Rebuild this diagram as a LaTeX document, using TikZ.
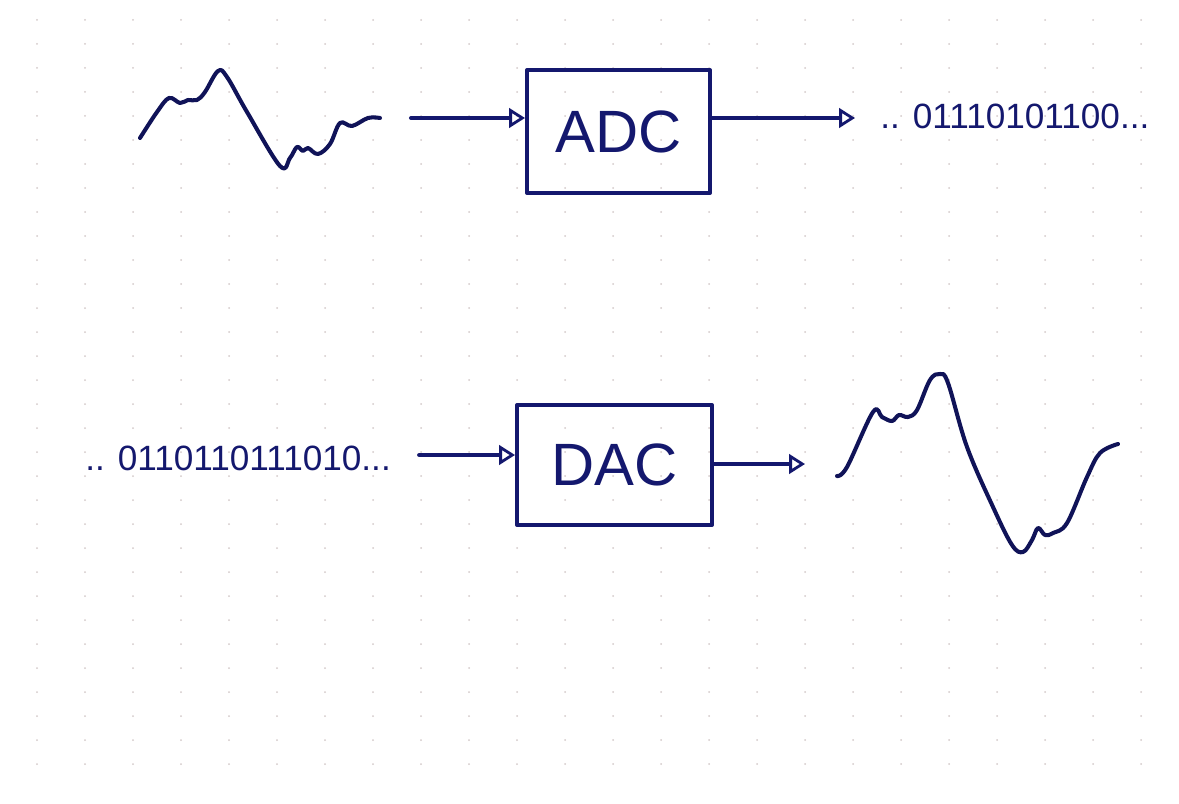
\documentclass[tikz,border=0pt]{standalone}
\usepackage{fontspec}
\setmainfont{Liberation Sans}
\usetikzlibrary{arrows.meta,calc}
\definecolor{ink}{RGB}{20,24,110}
\definecolor{paperdot}{RGB}{212,202,202}
\tikzset{
  blok/.style={draw=ink, line width=2.3pt, inner sep=0pt, text=ink, font=\fontsize{34}{40}\selectfont},
  bits/.style={text=ink, inner sep=0pt, anchor=west, font=\fontsize{20}{24}\selectfont},
  pijl/.style={draw=ink, line width=2.3pt, -{Triangle[open,length=9pt,width=11pt,line width=1.6pt]}},
  golf/.style={draw=ink!80!black, line width=2.3pt}
}
\begin{document}
\begin{tikzpicture}[x=0.02cm, y=-0.02cm, line join=round, line cap=round]
	\fill[white] (0,0) rectangle (1179,804);
	\useasboundingbox (0,0) rectangle (1179,804);
	% dotted paper
	\foreach \i in {0,...,23}
		\foreach \j in {0,...,31}
			\fill[paperdot] ({37+48*\i},{20+24*\j}) circle (1);
	% top row: analog -> ADC -> bits
	\coordinate (in1) at (411,118);
	\coordinate (out1) at (855,118);
	\node[blok, minimum width=3.66cm, minimum height=2.46cm] (adc) at (618.5,131.5) {ADC};
	\node[bits] (bitsout) at (880,116) {.. 01110101100...};
	\draw[golf] plot[smooth, tension=0.6] coordinates {(140,138) (157,112) (169,98) (180,103) (188,100) (197,100) (205,92) (218,71) (227,77) (247,112) (280,166) (290,158) (297,147) (303,151) (308,148) (318,154) (330,144) (340,123) (352,126) (368,118) (380,118)};
	\draw[pijl] (in1) -- (in1 -| adc.west);
	\draw[pijl] (adc.east |- out1) -- (out1);
	% bottom row: bits -> DAC -> analog
	\coordinate (out2) at (805,464);
	\node[blok, minimum width=3.9cm, minimum height=2.4cm] (dac) at (614.5,465) {DAC};
	\node[bits] (bitsin) at (85,458) {.. 0110110111010...};
	\draw[pijl] (bitsin.east) ++(28,-3) coordinate (in2) -- (in2 -| dac.west);
	\draw[pijl] (dac.east |- out2) -- (out2);
	\draw[golf] plot[smooth, tension=0.6] coordinates {(837,476) (847,467) (873,412) (882,417) (892,421) (899,415) (908,417) (917,410) (930,380) (940,374) (948,383) (967,447) (993,507) (1012,545) (1023,552) (1032,540) (1038,528) (1045,535) (1053,533) (1067,523) (1087,477) (1100,453) (1118,444)};
\end{tikzpicture}
\end{document}
